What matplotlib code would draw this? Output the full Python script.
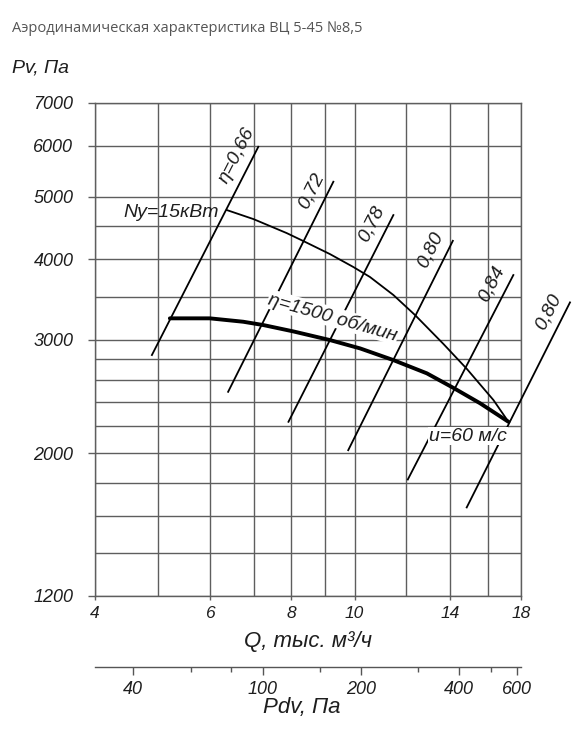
import numpy as np
import matplotlib
matplotlib.use("Agg")
from matplotlib import pyplot as plt
from matplotlib.ticker import FixedLocator, NullFormatter

plt.rcParams['font.family'] = ['Liberation Sans', 'DejaVu Sans']
plt.rcParams['font.style'] = 'italic'

# grid / tick values
q_major = [4, 6, 8, 10, 14, 18]
q_minor = [5, 7, 9, 12, 16]
pv_major = [1200, 2000, 3000, 4000, 5000, 6000, 7000]
pv_minor = [1400, 1600, 1800, 2200, 2400, 2600, 2800, 3500, 4500]
pdv_major = [40, 100, 200, 400, 600]
pdv_minor = [60, 80, 150, 300, 500]
pdv_per_q2 = 1.91  # Pdv = k * Q^2

# pressure curve n=1500 rpm
q_pv = [5.21, 6.00, 6.75, 7.25, 8.06, 9.17, 10.20, 11.47, 12.91, 14.18, 15.58, 17.22]
pv_1500 = [3238, 3238, 3199, 3161, 3090, 2996, 2908, 2789, 2660, 2525, 2390, 2237]

# power curve Ny=15 kW
q_ny = [6.37, 7.00, 7.87, 8.35, 9.17, 9.96, 10.56, 11.47, 12.38, 13.69, 14.87, 16.33, 17.22]
pv_ny = [4769, 4617, 4392, 4268, 4074, 3890, 3754, 3520, 3277, 2954, 2702, 2418, 2237]

# efficiency lines (bottom, top)
eta_labels = ["η=0,66", "0,72", "0,78", "0,80", "0,84", "0,80"]
eta_q = [(4.89, 7.12), (6.40, 9.28), (7.92, 11.47), (9.78, 14.15), (12.07, 17.52), (14.86, 21.4)]
eta_pv = [(2840, 5979), (2490, 5277), (2237, 4684), (2021, 4272), (1820, 3780), (1647, 3428)]

W, H = 588, 732
grid_col = '#5e5e5e'
txt_col = '#1e1e1e'


def box(x0, y0, x1, y1):
    return [x0 / W, 1 - y1 / H, (x1 - x0) / W, (y1 - y0) / H]


fig = plt.figure(figsize=(W / 100, H / 100), dpi=100)
ax = fig.add_axes(box(95, 102.7, 521, 596))
ax.set_xscale('log')
ax.set_yscale('log')
ax.set_xlim(4, 18)
ax.set_ylim(1200, 7000)

ax.xaxis.set_major_locator(FixedLocator(q_major))
ax.xaxis.set_minor_locator(FixedLocator(q_minor))
ax.set_xticklabels([str(v) for v in q_major])
ax.xaxis.set_minor_formatter(NullFormatter())
ax.yaxis.set_major_locator(FixedLocator(pv_major))
ax.yaxis.set_minor_locator(FixedLocator(pv_minor))
ax.set_yticklabels([str(v) for v in pv_major])
ax.yaxis.set_minor_formatter(NullFormatter())

ax.grid(which='both', color=grid_col, lw=1.0, zorder=0)
ax.set_axisbelow(True)
ax.tick_params(which='minor', length=0)
ax.tick_params(axis='x', which='major', length=3, width=1.0, color=grid_col,
               labelsize=12.5, pad=4, labelcolor=txt_col)
ax.tick_params(axis='y', which='major', length=5, width=1.0, color=grid_col,
               labelsize=13, pad=10.5, labelcolor=txt_col)
for s in ax.spines.values():
    s.set_color(grid_col)
    s.set_linewidth(1.0)

# curves
ax.plot(q_pv, pv_1500, color='black', lw=2.8, solid_capstyle='round',
        solid_joinstyle='round', zorder=3)
ax.plot(q_ny, pv_ny, color='black', lw=1.3, solid_joinstyle='round', zorder=3)
for lab, q, pv in zip(eta_labels, eta_q, eta_pv):
    ax.plot(q, pv, color='black', lw=1.3, clip_on=False, zorder=3)
    p0 = ax.transData.transform((q[0], pv[0]))
    p1 = ax.transData.transform((q[1], pv[1]))
    ang = np.degrees(np.arctan2(p1[1] - p0[1], p1[0] - p0[0]))
    ax.annotate(lab, xy=(q[1], pv[1]), xytext=(-22, -9), textcoords='offset pixels',
                rotation=ang, rotation_mode='anchor', ha='center', va='center',
                fontsize=14, color=txt_col, annotation_clip=False, zorder=5)

# curve labels
p0 = ax.transData.transform((q_pv[4], pv_1500[4]))
p1 = ax.transData.transform((q_pv[7], pv_1500[7]))
ang = np.degrees(np.arctan2(p1[1] - p0[1], p1[0] - p0[0]))
ax.text(9.27, 3252, "η=1500 об/мин", rotation=ang, rotation_mode='anchor',
        ha='center', va='center', fontsize=14, color=txt_col, zorder=5,
        bbox=dict(facecolor='white', edgecolor='none', pad=0.5))
ax.text(14.93, 2126, "u=60 м/с", ha='center', va='center', fontsize=14, color=txt_col,
        zorder=5, bbox=dict(facecolor='white', edgecolor='none', pad=0.5))
ax.annotate("Ny=15кВт", xy=(q_ny[0], pv_ny[0]), xytext=(-8, -2), textcoords='offset pixels',
            ha='right', va='center', fontsize=14, color=txt_col, zorder=5)

# dynamic pressure scale
ax2 = fig.add_axes(box(95, 666.3, 521, 667.3))
ax2.set_xscale('log')
ax2.set_xlim(pdv_per_q2 * 4 ** 2, pdv_per_q2 * 18 ** 2)
ax2.set_yticks([])
for side in ['top', 'left', 'right']:
    ax2.spines[side].set_visible(False)
ax2.spines['bottom'].set_color('#555555')
ax2.spines['bottom'].set_linewidth(1.0)
ax2.xaxis.set_major_locator(FixedLocator(pdv_major))
ax2.xaxis.set_minor_locator(FixedLocator(pdv_minor))
ax2.set_xticklabels([str(v) for v in pdv_major])
ax2.xaxis.set_minor_formatter(NullFormatter())
ax2.tick_params(axis='x', which='major', length=6, width=1.0, color='#555555',
                labelsize=13, pad=4, labelcolor=txt_col)
ax2.tick_params(axis='x', which='minor', length=3.6, width=1.0, color='#555555')
ax2.patch.set_visible(False)

# texts
fig.text(12 / W, 1 - 28 / H, "Аэродинамическая характеристика ВЦ 5-45 №8,5",
         family=['Open Sans', 'DejaVu Sans'], style='normal', color='#555555',
         fontsize=10.5, va='center', ha='left')
fig.text(12 / W, 1 - 68 / H, "Pv, Па", fontsize=14, va='center', ha='left', color=txt_col)
fig.text(308 / W, 1 - 642 / H, "Q, тыс. м³/ч", fontsize=16, va='center', ha='center', color=txt_col)
fig.text(302 / W, 1 - 708 / H, "Pdv, Па", fontsize=16, va='center', ha='center', color=txt_col)

fig.savefig('out.png', dpi=100)
